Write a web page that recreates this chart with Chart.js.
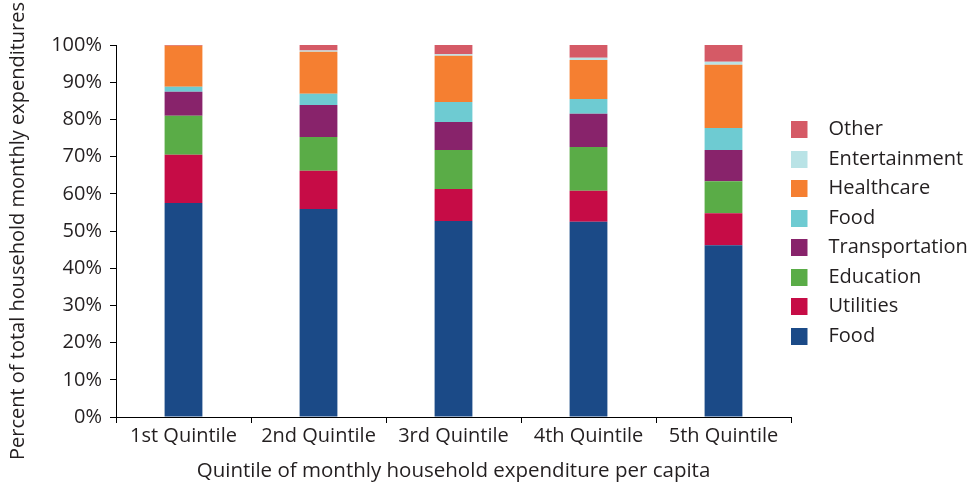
<!DOCTYPE html>
<html>
<head>
<meta charset="UTF-8">
<title>Household expenditure by quintile</title>
<style>
  body { margin: 0; background: #fff; }
  #wrap { width: 971px; height: 483px; }
</style>
</head>
<body>
<div id="wrap"><canvas id="myChart" width="971" height="483"></canvas></div>
<script src="https://cdn.jsdelivr.net/npm/chart.js"></script>
<script>
// data (percent of total)
const quintiles = ['1st Quintile', '2nd Quintile', '3rd Quintile', '4th Quintile', '5th Quintile'];
const food = [57.5, 55.9, 52.7, 52.5, 46.2];
const utilities = [13.0, 10.3, 8.6, 8.3, 8.6];
const education = [10.5, 9.1, 10.5, 11.8, 8.6];
const transportation = [6.4, 8.6, 7.5, 8.9, 8.4];
const food2 = [1.4, 3.0, 5.4, 4.0, 5.9];
const healthcare = [11.0, 11.3, 12.4, 10.5, 17.0];
const entertainment = [0, 0.3, 0.4, 0.6, 0.8];
const other = [0.2, 1.5, 2.5, 3.4, 4.5];
const yTicks = [0, 10, 20, 30, 40, 50, 60, 70, 80, 90, 100];

const FONT = "'Open Sans', 'Noto Sans', sans-serif";
const INK = '#231f20';

// legend swatch: 17px square on the left of a wider transparent box
function swatch(color) {
  const c = document.createElement('canvas');
  c.width = 28; c.height = 17;
  const g = c.getContext('2d');
  g.fillStyle = color;
  g.fillRect(0, 0, 17, 17);
  return c;
}

function ds(label, data, color) {
  return { label: label, data: data, backgroundColor: color, borderWidth: 0, swatch: swatch(color) };
}

const data = {
  labels: quintiles,
  datasets: [
    ds('Food', food, '#1b4a87'),
    ds('Utilities', utilities, '#c60c46'),
    ds('Education', education, '#5aac47'),
    ds('Transportation', transportation, '#88236b'),
    ds('Food', food2, '#6ecbd2'),
    ds('Healthcare', healthcare, '#f57f31'),
    ds('Entertainment', entertainment, '#b9e3e6'),
    ds('Other', other, '#d55a66')
  ]
};

// move the legend so it sits against the end of the axis, centred on the plot
const legendShift = {
  id: 'legendShift',
  afterLayout(chart) {
    const lg = chart.legend;
    lg.left -= 10;
    lg.top -= 31; lg.bottom -= 31;
  }
};

const config = {
  type: 'bar',
  data,
  options: {
    responsive: false,
    animation: false,
    devicePixelRatio: 1,
    layout: { padding: { top: 45, right: 0, left: 0, bottom: 0 } },
    datasets: { bar: { barPercentage: 0.28, categoryPercentage: 1 } },
    plugins: {
      tooltip: { enabled: false },
      legend: {
        position: 'right',
        reverse: true,
        maxWidth: 180,
        labels: {
          color: INK,
          font: { family: FONT, size: 20 },
          usePointStyle: true,
          pointStyleWidth: 28,
          padding: 9.5,
          generateLabels(chart) {
            const items = Chart.defaults.plugins.legend.labels.generateLabels(chart);
            items.forEach(it => { it.pointStyle = chart.data.datasets[it.datasetIndex].swatch; });
            return items;
          }
        }
      }
    },
    scales: {
      x: {
        stacked: true,
        afterFit(s) { s.height = 66; },
        border: { color: '#000', width: 1 },
        grid: { offset: true, drawOnChartArea: false, color: '#000', tickLength: 6 },
        ticks: { color: INK, font: { family: FONT, size: 20 }, padding: 1, maxRotation: 0 },
        title: { display: true, text: 'Quintile of monthly household expenditure per capita', color: INK, font: { family: FONT, size: 20.5 }, padding: { top: 1, bottom: 0 } }
      },
      y: {
        stacked: true,
        min: 0,
        max: 100,
        afterFit(s) { s.width = 116; },
        afterBuildTicks(s) { s.ticks = yTicks.map(v => ({ value: v })); },
        border: { color: '#000', width: 1 },
        grid: { drawOnChartArea: false, color: '#000', tickLength: 6 },
        ticks: { color: INK, font: { family: FONT, size: 20 }, padding: 8, callback: v => v + '%' },
        title: { display: true, text: 'Percent of total household monthly expenditures', color: INK, font: { family: FONT, size: 20 }, padding: { top: 6, bottom: 4 } }
      }
    }
  },
  plugins: [legendShift]
};

const myChart = new Chart(document.getElementById('myChart'), config);
</script>
</body>
</html>
